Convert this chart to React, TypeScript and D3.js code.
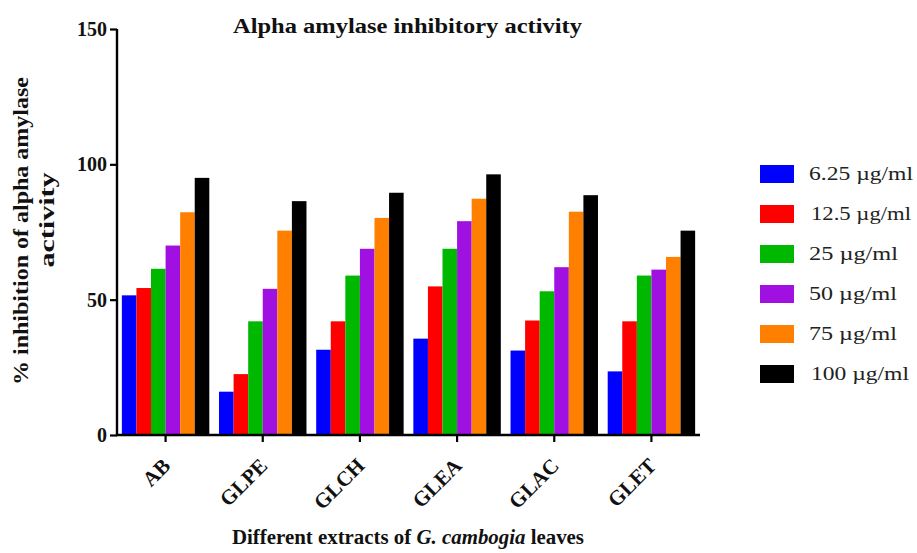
import React, { useEffect, useRef } from 'react';
import * as d3 from 'd3';

// extracts on the x axis
const categories = ['AB', 'GLPE', 'GLCH', 'GLEA', 'GLAC', 'GLET'];
// concentrations (legend)
const series = ['6.25 µg/ml', '12.5 µg/ml', '25 µg/ml', '50 µg/ml', '75 µg/ml', '100 µg/ml'];
const colors = ['#0000ff', '#ff0000', '#00b800', '#a010e0', '#ff8000', '#000000'];
// % inhibition, one array per concentration, in category order
const v625 = [51.6, 16, 31.5, 35.6, 31.2, 23.5];
const v125 = [54.3, 22.5, 42, 54.9, 42.3, 42];
const v25 = [61.4, 42, 58.9, 68.8, 53.1, 58.9];
const v50 = [70, 54, 68.8, 79, 62, 61.1];
const v75 = [82.3, 75.5, 80.2, 87.3, 82.5, 65.8];
const v100 = [95, 86.4, 89.5, 96.3, 88.6, 75.5];
const yTicks = [0, 50, 100, 150];

const values = [v625, v125, v25, v50, v75, v100];
const legendWidths = [104, 100, 89, 88, 88, 98];

const App = () => {
  const ref = useRef<SVGSVGElement>(null);

  useEffect(() => {
    const svg = d3.select(ref.current);
    svg.selectAll('*').remove();
    const font = '"Liberation Serif", "Times New Roman", serif';

    const x0 = d3.scaleBand().domain(categories).range([117, 700]).paddingInner(0.1).paddingOuter(0.05);
    const x1 = d3.scaleBand().domain(series).range([0, x0.bandwidth()]);
    const y = d3.scaleLinear().domain([0, 150]).range([435, 29]);

    // bars
    const g = svg.append('g');
    categories.forEach((c, ci) => {
      series.forEach((s, si) => {
        const v = values[si][ci];
        g.append('rect')
          .attr('x', (x0(c) as number) + (x1(s) as number))
          .attr('y', y(v))
          .attr('width', x1.bandwidth())
          .attr('height', y(0) - y(v))
          .attr('fill', colors[si]);
      });
    });

    // y axis
    const ya = svg.append('g')
      .attr('transform', 'translate(117,0)')
      .call(d3.axisLeft(y).tickValues(yTicks).tickSize(7).tickPadding(3).tickFormat(d3.format('d')));
    ya.select('.domain').attr('stroke-width', 2.4).attr('d', `M-0,${y(150)}V${y(0)}`);
    ya.selectAll('.tick line').attr('stroke-width', 2.2);
    ya.selectAll('.tick text').attr('font-family', font).attr('font-weight', 'bold').attr('font-size', 20).attr('fill', '#111');

    // x axis
    const xa = svg.append('g')
      .attr('transform', 'translate(0,435)')
      .call(d3.axisBottom(x0).tickSize(7).tickSizeOuter(0).tickFormat(() => ''));
    xa.select('.domain').attr('stroke-width', 2.4).attr('d', 'M116,0H700');
    xa.selectAll('.tick line').attr('stroke-width', 2.2);

    categories.forEach((c) => {
      const cx = (x0(c) as number) + x0.bandwidth() / 2;
      svg.append('text')
        .attr('transform', `translate(${cx + 6},${467}) rotate(-45)`)
        .attr('text-anchor', 'end')
        .attr('font-family', font)
        .attr('font-weight', 'bold')
        .attr('font-size', 21)
        .attr('fill', '#111')
        .text(c);
    });

    // title
    svg.append('text')
      .attr('x', 233).attr('y', 33)
      .attr('textLength', 349).attr('lengthAdjust', 'spacingAndGlyphs')
      .attr('font-family', font).attr('font-weight', 'bold').attr('font-size', 20)
      .attr('fill', '#111')
      .text('Alpha amylase inhibitory activity');

    // y label
    const yl = svg.append('text')
      .attr('transform', 'translate(0,231) rotate(-90)')
      .attr('text-anchor', 'middle')
      .attr('font-family', font).attr('font-weight', 'bold').attr('font-size', 20)
      .attr('fill', '#111');
    yl.append('tspan').attr('x', 0).attr('y', 28)
      .attr('textLength', 308).attr('lengthAdjust', 'spacingAndGlyphs')
      .text('% inhibition of alpha amylase');
    yl.append('tspan').attr('x', 11).attr('y', 54)
      .attr('textLength', 95).attr('lengthAdjust', 'spacingAndGlyphs')
      .text('activity');

    // x label
    const xl = svg.append('text')
      .attr('x', 232).attr('y', 544)
      .attr('textLength', 352).attr('lengthAdjust', 'spacingAndGlyphs')
      .attr('font-family', font).attr('font-weight', 'bold').attr('font-size', 20)
      .attr('fill', '#111');
    xl.append('tspan').text('Different extracts of ');
    xl.append('tspan').attr('font-style', 'italic').text('G. cambogia');
    xl.append('tspan').text(' leaves');

    // legend
    const lg = svg.append('g').attr('transform', 'translate(760,165)');
    series.forEach((s, i) => {
      lg.append('rect')
        .attr('x', 0).attr('y', i * 40)
        .attr('width', 34).attr('height', 18)
        .attr('fill', colors[i]);
      lg.append('text')
        .attr('x', i === 1 || i === 5 ? 51 : 49).attr('y', i * 40 + 15)
        .attr('textLength', legendWidths[i]).attr('lengthAdjust', 'spacingAndGlyphs')
        .attr('font-family', font).attr('font-size', 19)
        .attr('fill', '#222')
        .text(s);
    });
  }, []);

  return <svg ref={ref} width={917} height={553} style={{ position: 'absolute', top: 0, left: 0 }} />;
};

export default App;
